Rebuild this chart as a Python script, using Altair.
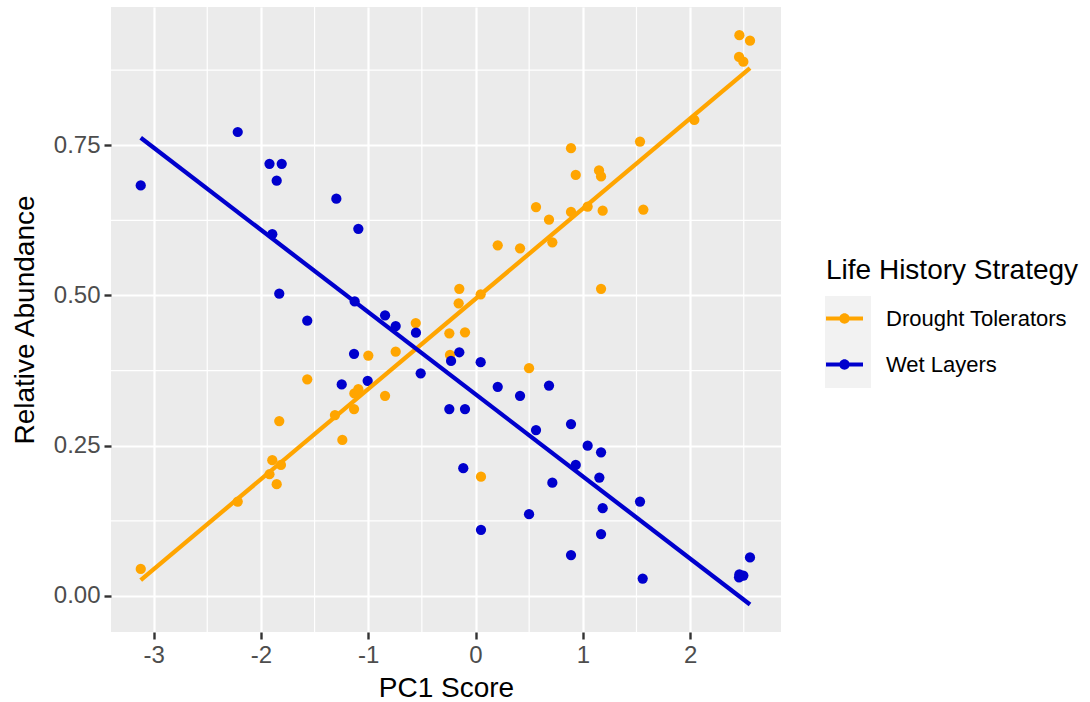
import altair as alt
import pandas as pd

# ---- data ----
dt_x = [-3.12, -2.216, -1.92, -1.894, -1.853, -1.829, -1.813, -1.568, -1.31, -1.241,
        -1.132, -1.129, -1.092, -0.999, -0.843, -0.744, -0.557, -0.244, -0.238, -0.098,
        -0.157, -0.151, 0.048, 0.051, 0.207, 0.415, 0.499, 0.564, 0.685, 0.716,
        0.890, 0.890, 0.934, 1.045, 1.151, 1.170, 1.170, 1.185, 1.533, 1.564,
        2.039, 2.459, 2.558, 2.456, 2.496]
dt_y = [0.045, 0.157, 0.2025, 0.226, 0.186, 0.291, 0.218, 0.3605, 0.301, 0.2596,
        0.311, 0.337, 0.344, 0.400, 0.333, 0.4065, 0.454, 0.437, 0.401, 0.4387,
        0.487, 0.511, 0.502, 0.1985, 0.5835, 0.5785, 0.379, 0.647, 0.626, 0.5885,
        0.745, 0.639, 0.7005, 0.648, 0.708, 0.698, 0.511, 0.641, 0.756, 0.643,
        0.792, 0.933, 0.924, 0.897, 0.889]

wl_x = [-3.12, -2.216, -1.92, -1.806, -1.853, -1.297, -1.092, -1.894, -1.829, -1.126,
        -0.843, -1.568, -0.744, -0.555, -1.132, -0.511, -1.247, -1.005, -0.151, -0.228,
        0.048, 0.207, 0.415, 0.685, -0.244, -0.098, 0.564, 0.890, 1.045, 1.170,
        0.934, 1.154, -0.114, 0.716, 1.533, 1.185, 0.499, 0.051, 1.170, 0.890,
        1.558, 2.558, 2.459, 2.456, 2.496]
wl_y = [0.683, 0.772, 0.719, 0.719, 0.691, 0.661, 0.611, 0.602, 0.503, 0.490,
        0.467, 0.458, 0.449, 0.438, 0.403, 0.3705, 0.352, 0.358, 0.4055, 0.391,
        0.389, 0.348, 0.333, 0.350, 0.311, 0.311, 0.276, 0.286, 0.250, 0.239,
        0.218, 0.197, 0.2125, 0.1885, 0.157, 0.146, 0.136, 0.110, 0.103, 0.068,
        0.029, 0.064, 0.036, 0.031, 0.034]

groups = ["Drought Tolerators", "Wet Layers"]
group_colors = ["#FFA500", "#0000CD"]
x_ticks = [-3, -2, -1, 0, 1, 2]
y_ticks = [0.0, 0.25, 0.50, 0.75]
x_minor = [-2.5, -1.5, -0.5, 0.5, 1.5, 2.5]
y_minor = [0.125, 0.375, 0.625, 0.875]
x_domain = [-3.397, 2.847]
y_domain = [-0.060, 0.980]

df = pd.DataFrame({
    "pc1": dt_x + wl_x,
    "abund": dt_y + wl_y,
    "strategy": [groups[0]] * len(dt_x) + [groups[1]] * len(wl_x),
})
minor_x_df = pd.DataFrame({"v": x_minor})
minor_y_df = pd.DataFrame({"v": y_minor})
key_bg_df = pd.DataFrame({"k": [0]})

FONT = "Liberation Sans"

xscale = alt.Scale(domain=x_domain, nice=False, zero=False)
yscale = alt.Scale(domain=y_domain, nice=False, zero=False)
cscale = alt.Scale(domain=groups, range=group_colors)

xaxis = alt.Axis(values=x_ticks, title="PC1 Score", grid=True, domain=False,
                 tickColor="#333333", tickWidth=2.4, tickSize=7,
                 labelColor="#4D4D4D", labelFontSize=24, labelFont=FONT, labelPadding=4,
                 labelExpr="toString(datum.value)",
                 titleFont=FONT, titleFontSize=28, titleFontWeight="normal",
                 titleColor="#000000", titlePadding=7)
yaxis = alt.Axis(values=y_ticks, title="Relative Abundance", grid=True, domain=False,
                 tickColor="#333333", tickWidth=2.4, tickSize=7,
                 labelColor="#4D4D4D", labelFontSize=24, labelFont=FONT, labelPadding=4,
                 titleFont=FONT, titleFontSize=28, titleFontWeight="normal",
                 titleColor="#000000", titlePadding=14, format=".2f")

sym = ("M-1,-0.11H1V0.11H-1Z "
       "M-0.28,0A0.28,0.28 0 1,1 0.28,0A0.28,0.28 0 1,1 -0.28,0Z")

minor_v = alt.Chart(minor_x_df).mark_rule(color="white", strokeWidth=1.2).encode(
    x=alt.X("v:Q", scale=xscale, axis=xaxis)
)
minor_h = alt.Chart(minor_y_df).mark_rule(color="white", strokeWidth=1.2).encode(
    y=alt.Y("v:Q", scale=yscale, axis=yaxis)
)

key_bg = alt.Chart(key_bg_df).mark_rect(color="#F2F2F2").encode(
    x=alt.value(714), x2=alt.value(760), y=alt.value(289), y2=alt.value(381)
)

points = alt.Chart(df).mark_circle(size=105, opacity=1).encode(
    x=alt.X("pc1:Q", scale=xscale, axis=xaxis),
    y=alt.Y("abund:Q", scale=yscale, axis=yaxis),
    color=alt.Color("strategy:N", scale=cscale,
                    legend=alt.Legend(title="Life History Strategy", symbolType=sym,
                                      symbolSize=1369, symbolStrokeWidth=0,
                                      orient="none", legendX=715, legendY=250)),
)

lines = alt.Chart(df).transform_regression(
    "pc1", "abund", groupby=["strategy"]
).mark_line(strokeWidth=4.3).encode(
    x=alt.X("pc1:Q", scale=xscale, axis=xaxis),
    y=alt.Y("abund:Q", scale=yscale, axis=yaxis),
    color=alt.Color("strategy:N", scale=cscale, legend=None),
)

chart = alt.layer(minor_v, minor_h, key_bg, points, lines).properties(
    width=670, height=625,
    autosize=alt.AutoSizeParams(type="none"),
    padding={"left": 111, "top": 7, "right": 309, "bottom": 70},
).configure_view(
    fill="#EBEBEB", stroke=None
).configure_axis(
    gridColor="#FFFFFF", gridWidth=2.2
).configure_legend(
    padding=0, titleFont=FONT, titleFontSize=28, titleFontWeight="normal",
    titleColor="#000000", titlePadding=15, titleLimit=400,
    labelFont=FONT, labelFontSize=22, labelLimit=300,
    labelColor="#000000", labelOffset=23, rowPadding=16
)

chart.save("out.html", embed_options={"renderer": "svg", "actions": False})
